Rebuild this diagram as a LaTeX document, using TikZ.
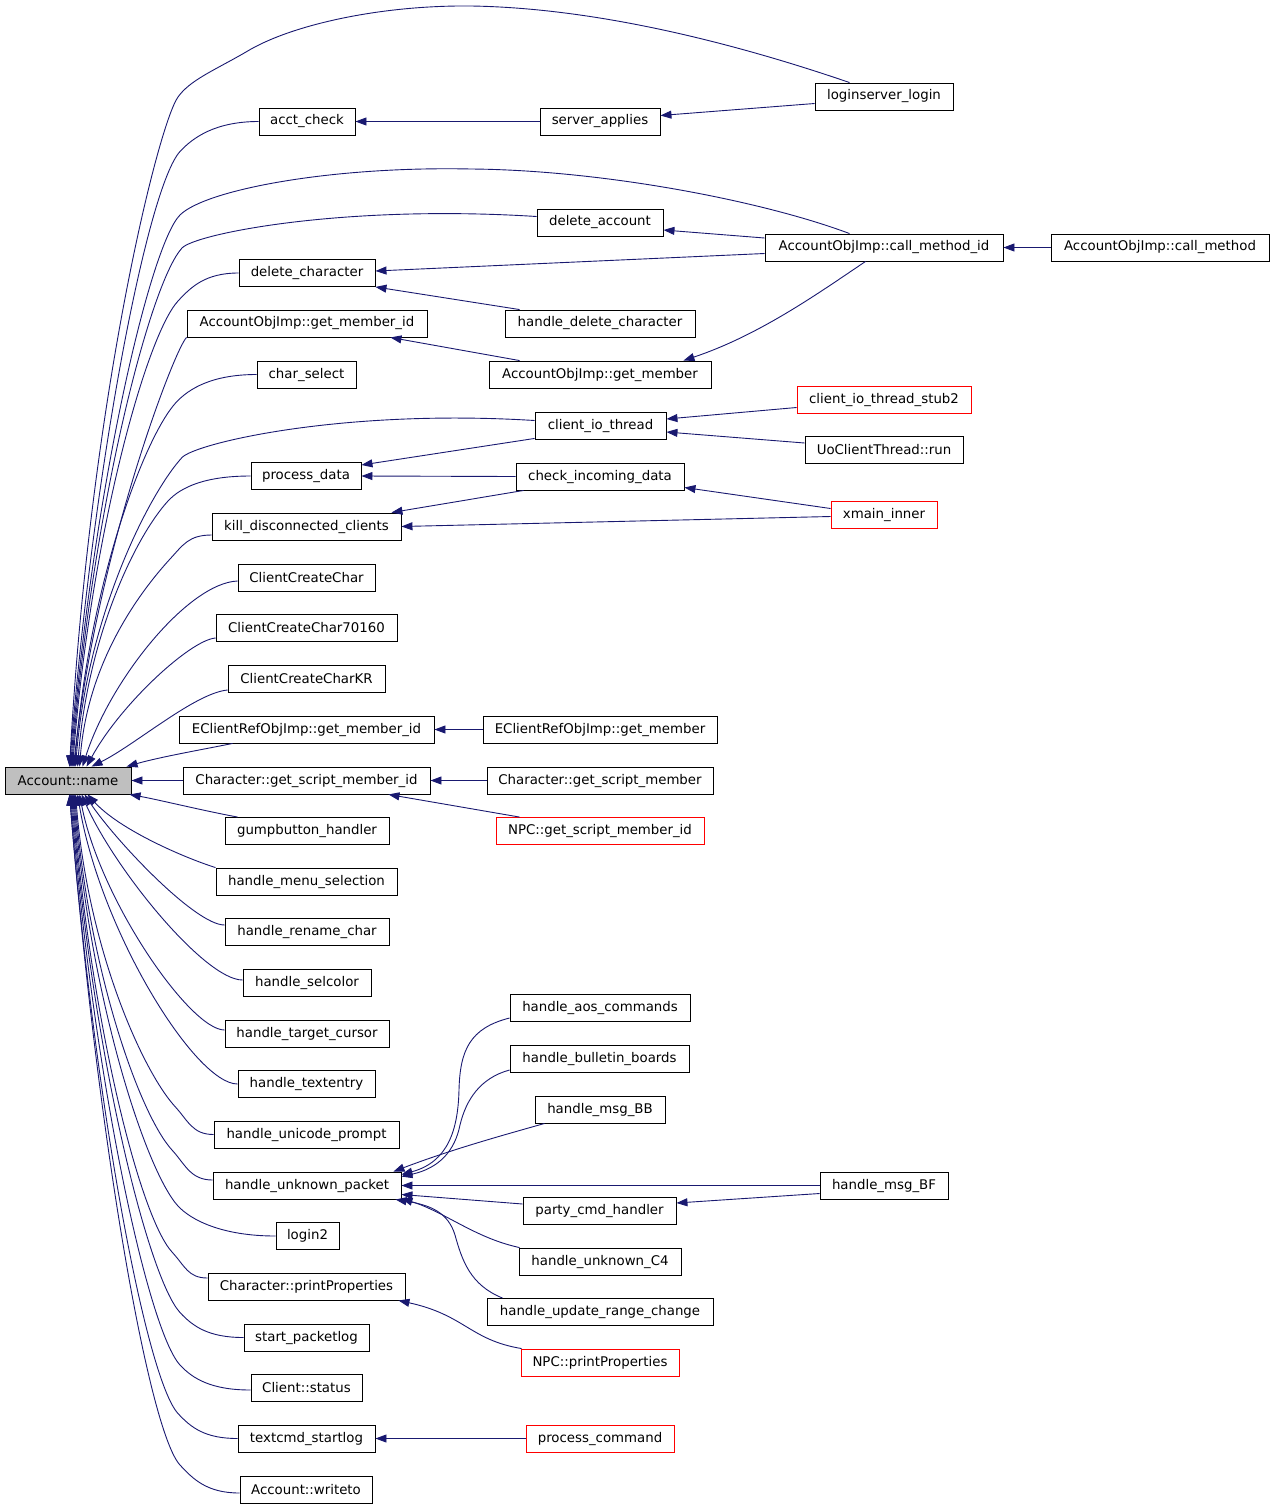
\documentclass[tikz,border=0pt]{standalone}
\usepackage{fontspec}
\setmainfont{DejaVu Sans}
\usetikzlibrary{arrows.meta,calc}
\definecolor{edgec}{RGB}{25,25,112}
\definecolor{accfill}{RGB}{191,191,191}
\newcommand\upfar[6]{\draw[conn] (#1) .. controls ($(#1)!0.55!(#3,#2)+(0,-#6)$) and ({#3+13},{#2+#4-14}) .. ({#3},{#2+#4}) .. controls ({#3-32},{#2+#4+35}) and +({0.04*(766-#2-#4)},{-0.5*(766-#2-#4)}) .. ([xshift=#5pt]acc.north west);}
\newcommand\lofar[6]{\draw[conn] (#1) .. controls ($(#1)!0.55!(#3,#2)+(0,#6)$) and ({#3+13},{#2-#4+14}) .. ({#3},{#2-#4}) .. controls ({#3-32},{#2-#4-35}) and +({0.04*(#2-#4-795)},{0.5*(#2-#4-795)}) .. ([xshift=#5pt]acc.south west);}
\begin{document}
\begin{tikzpicture}[x=1pt,y=-1pt,
  box/.style={draw=black,line width=0.9pt,fill=white,minimum height=27pt,inner sep=0pt,font=\fontsize{13.33}{16}\selectfont},
  redbox/.style={box,draw=red},
  conn/.style={draw=edgec,line width=0.9pt,-{Triangle[length=11pt,width=8pt]}}]
\useasboundingbox (0,0) rectangle (1275,1508);
% column 0
\node[box,minimum width=126pt,fill=accfill] (acc) at (68,780.5) {Account::name};
% column 1
\node[box,minimum width=96pt] (acct) at (307,121.5) {acct\_check};
\node[box,minimum width=136pt] (delchar) at (307,273) {delete\_character};
\node[box,minimum width=240pt] (gmid) at (307,323.5) {AccountObjImp::get\_member\_id};
\node[box,minimum width=99pt] (charsel) at (306.5,374.5) {char\_select};
\node[box,minimum width=110pt] (pd) at (306,476) {process\_data};
\node[box,minimum width=189pt] (kill) at (306.5,526.5) {kill\_disconnected\_clients};
\node[box,minimum width=137pt] (ccc) at (306.5,577.5) {ClientCreateChar};
\node[box,minimum width=181pt] (c70) at (306.5,628) {ClientCreateChar70160};
\node[box,minimum width=157pt] (kr) at (306.5,678.5) {ClientCreateCharKR};
\node[box,minimum width=255pt] (ecid) at (306.5,729.5) {EClientRefObjImp::get\_member\_id};
\node[box,minimum width=247pt] (csmi) at (306.5,780.5) {Character::get\_script\_member\_id};
\node[box,minimum width=164pt] (gump) at (307,831) {gumpbutton\_handler};
\node[box,minimum width=181pt] (menu) at (306.5,881.5) {handle\_menu\_selection};
\node[box,minimum width=164pt] (ren) at (307,932) {handle\_rename\_char};
\node[box,minimum width=128pt] (sel) at (307,982.5) {handle\_selcolor};
\node[box,minimum width=164pt] (tc) at (307,1033.5) {handle\_target\_cursor};
\node[box,minimum width=137pt] (te) at (306.5,1084) {handle\_textentry};
\node[box,minimum width=185pt] (uni) at (306.5,1134.5) {handle\_unicode\_prompt};
\node[box,minimum width=188pt] (hup) at (307,1185.5) {handle\_unknown\_packet};
\node[box,minimum width=63pt] (ltwo) at (307.5,1236) {login2};
\node[box,minimum width=197pt] (pp) at (306.5,1286.5) {Character::printProperties};
\node[box,minimum width=125pt] (spl) at (306.5,1337.5) {start\_packetlog};
\node[box,minimum width=111pt] (cs) at (306.5,1387.5) {Client::status};
\node[box,minimum width=137pt] (tcs) at (306.5,1438.5) {textcmd\_startlog};
\node[box,minimum width=132pt] (wt) at (306,1489.5) {Account::writeto};
% column 2
\node[box,minimum width=120pt] (sa) at (600,121.5) {server\_applies};
\node[box,minimum width=126pt] (delacc) at (600,222.5) {delete\_account};
\node[box,minimum width=190pt] (hdc) at (600,323.5) {handle\_delete\_character};
\node[box,minimum width=222pt] (gm) at (600,374.5) {AccountObjImp::get\_member};
\node[box,minimum width=131pt] (cio) at (600.5,425.5) {client\_io\_thread};
\node[box,minimum width=168pt] (cic) at (600,476.5) {check\_incoming\_data};
\node[box,minimum width=234pt] (ecg) at (600,729.5) {EClientRefObjImp::get\_member};
\node[box,minimum width=226pt] (csm) at (600,780.5) {Character::get\_script\_member};
\node[redbox,minimum width=208pt] (npcgsm) at (600,831) {NPC::get\_script\_member\_id};
\node[box,minimum width=180pt] (aos) at (600,1007.5) {handle\_aos\_commands};
\node[box,minimum width=179pt] (bb) at (599.5,1058.5) {handle\_bulletin\_boards};
\node[box,minimum width=130pt] (mbb) at (600,1109.5) {handle\_msg\_BB};
\node[box,minimum width=153pt] (party) at (599.5,1210.5) {party\_cmd\_handler};
\node[box,minimum width=162pt] (cfour) at (600,1261.5) {handle\_unknown\_C4};
\node[box,minimum width=226pt] (urc) at (600,1312) {handle\_update\_range\_change};
\node[redbox,minimum width=158pt] (npcpp) at (600,1362.5) {NPC::printProperties};
\node[redbox,minimum width=148pt] (pc) at (600,1438.5) {process\_command};
% column 3
\node[box,minimum width=138pt] (login) at (884,96.5) {loginserver\_login};
\node[box,minimum width=238pt] (cmid) at (884,247.5) {AccountObjImp::call\_method\_id};
\node[redbox,minimum width=174pt] (stub) at (884,399.5) {client\_io\_thread\_stub2};
\node[box,minimum width=158pt] (uo) at (884,450) {UoClientThread::run};
\node[redbox,minimum width=106pt] (xmain) at (884,514.5) {xmain\_inner};
\node[box,minimum width=128pt] (bf) at (884,1185.5) {handle\_msg\_BF};
% column 4
\node[box,minimum width=218pt] (cm) at (1160,247.5) {AccountObjImp::call\_method};
% start points
\coordinate (sda) at ($(delacc.west)+(0,-6)$);
\coordinate (scio) at ($(cio.west)+(0,-5)$);
\coordinate (skill) at ($(kill.west)+(0,8.5)$);
\coordinate (sccc) at ($(ccc.west)+(0,3.5)$);
\coordinate (sc70) at ($(c70.west)+(0,10)$);
\coordinate (skr) at ($(kr.west)+(0,11.5)$);
\coordinate (sren) at ($(ren.west)+(0,-7)$);
\coordinate (ssel) at ($(sel.west)+(0,-2.5)$);
\coordinate (stc) at ($(tc.west)+(0,-3.5)$);
\coordinate (shup) at ($(hup.west)+(0,-5.5)$);
\coordinate (spp) at ($(pp.west)+(0,-8.5)$);
\coordinate (scs) at ($(cs.west)+(0,2.5)$);
\coordinate (swt) at ($(wt.west)+(0,3.5)$);
% edges into Account::name (upper)
\draw[conn] ($(login.north west)+(35,0)$) .. controls (740,45) and (600,8) .. (471,6) .. controls (380,5) and (290,25) .. (246,52) .. controls (215,70) and (190,80) .. (178,97) .. controls (158,125) and (90,400) .. ([xshift=65pt]acc.north west);
\upfar{acct.west}{121.5}{180}{30}{65}{0}
\draw[conn] ($(cmid.north west)+(85,0)$) .. controls (760,200) and (600,170) .. (471,169) .. controls (330,166) and (205,190) .. (180,215) .. controls (150,245) and +(22,-275) .. ([xshift=66pt]acc.north west);
\upfar{sda}{216}{182}{32}{67}{12}
\upfar{delchar.west}{273}{178}{28}{68}{0}
\draw[conn] (gmid.south west) .. controls (175,348) and +(23,-215) .. ([xshift=69pt]acc.north west);
\upfar{charsel.west}{374.5}{176}{28}{70}{0}
\upfar{scio}{420.5}{182}{37}{71}{12}
\upfar{pd.west}{476}{168}{25}{73}{0}
\upfar{skill}{535}{170}{24}{75}{0}
\draw[conn] (sccc) .. controls (188,583) and (110,680) .. ([xshift=78pt]acc.north west);
\draw[conn] (sc70) .. controls (190,640) and (120,705) .. ([xshift=82pt]acc.north west);
\draw[conn] (skr) .. controls (195,693) and (135,745) .. ([xshift=87pt]acc.north west);
\draw[conn] ($(ecid.south west)+(54,0)$) .. controls (200,750) and (160,757) .. ([xshift=122pt]acc.north west);
\draw[conn] (csmi.west) -- (acc.east);
% edges into Account::name (lower)
\draw[conn] ($(gump.north west)+(13,0)$) .. controls (200,810) and (160,800) .. ([xshift=125pt]acc.south west);
\draw[conn] (menu.north west) .. controls (185,858) and (120,830) .. ([xshift=83pt]acc.south west);
\draw[conn] (sren) .. controls (195,925) and (115,840) .. ([xshift=80pt]acc.south west);
\draw[conn] (ssel) .. controls (205,980) and (115,870) .. ([xshift=77pt]acc.south west);
\draw[conn] (stc) .. controls (190,1030) and (100,900) .. ([xshift=75pt]acc.south west);
\draw[conn] (te.west) .. controls (195,1084) and (100,930) .. ([xshift=73pt]acc.south west);
\lofar{uni.west}{1134.5}{175}{28}{71}{0}
\lofar{shup}{1180}{172}{30}{70}{0}
\lofar{ltwo.west}{1236}{178}{30}{69}{0}
\lofar{spp}{1278}{172}{26}{68}{0}
\lofar{spl.west}{1337.5}{180}{25}{67}{0}
\lofar{scs}{1390}{180}{25}{66}{0}
\lofar{tcs.west}{1438.5}{178}{25}{65}{0}
\lofar{swt}{1493}{180}{28}{65}{0}
% other edges
\draw[conn] (sa.west) -- (acct.east);
\draw[conn] ($(login.west)+(0,7)$) -- ($(sa.east)+(0,-6)$);
\draw[conn] ($(cmid.west)+(0,-9.5)$) -- ($(delacc.east)+(0,7.5)$);
\draw[conn] ($(cmid.west)+(0,6)$) -- ($(delchar.east)+(0,-2)$);
\draw[conn] ($(hdc.north west)+(15,0)$) -- (delchar.south east);
\draw[conn] ($(gm.north west)+(31,0)$) -- ($(gmid.south east)+(-37,0)$);
\draw[conn] ($(cmid.south west)+(101,0)$) .. controls (820,292) and (760,335) .. ($(gm.north east)+(-28,0)$);
\draw[conn] (cm.west) -- (cmid.east);
\draw[conn] ($(stub.west)+(0,8)$) -- ($(cio.east)+(0,-6.5)$);
\draw[conn] ($(uo.west)+(0,-7)$) -- ($(cio.east)+(0,6.5)$);
\draw[conn] ($(cio.south west)+(0,-1)$) -- ($(pd.east)+(0,-11)$);
\draw[conn] (cic.west) -- (pd.east);
\draw[conn] ($(cic.south west)+(8,0)$) -- ($(kill.north east)+(-10,0)$);
\draw[conn] ($(xmain.west)+(0,2)$) -- (kill.east);
\draw[conn] ($(xmain.west)+(0,-6)$) -- ($(cic.east)+(0,11)$);
\draw[conn] (ecg.west) -- (ecid.east);
\draw[conn] (csm.west) -- (csmi.east);
\draw[conn] ($(npcgsm.north west)+(24,0)$) -- ($(csmi.south east)+(-42,0)$);
\draw[conn] ($(aos.west)+(0,10.5)$) .. controls (470,1028) and (460,1050) .. (459,1090) .. controls (458,1130) and (448,1162) .. ($(hup.north east)+(0,3)$);
\draw[conn] ($(bb.west)+(0,11.5)$) .. controls (480,1078) and (466,1100) .. (460,1125) .. controls (455,1150) and (440,1168) .. ($(hup.north east)+(0,5)$);
\draw[conn] ($(mbb.south west)+(10,0)$) .. controls (500,1136) and (450,1150) .. ($(hup.north east)+(-8,0)$);
\draw[conn] (bf.west) -- (hup.east);
\draw[conn] ($(party.west)+(0,-6.5)$) -- ($(hup.east)+(0,9)$);
\draw[conn] ($(cfour.north west)+(1,0)$) .. controls (475,1238) and (445,1212) .. ($(hup.south east)+(0,-1)$);
\draw[conn] ($(urc.north west)+(16,0)$) .. controls (470,1285) and (462,1260) .. (455,1235) .. controls (448,1212) and (430,1205) .. ($(hup.south east)+(-6,0)$);
\draw[conn] ($(bf.west)+(0,8)$) -- ($(party.east)+(0,-7.5)$);
\draw[conn] ($(npcpp.north west)+(1,0)$) .. controls (470,1340) and (465,1315) .. ($(pp.south east)+(-7,0)$);
\draw[conn] (pc.west) -- (tcs.east);
\end{tikzpicture}
\end{document}
